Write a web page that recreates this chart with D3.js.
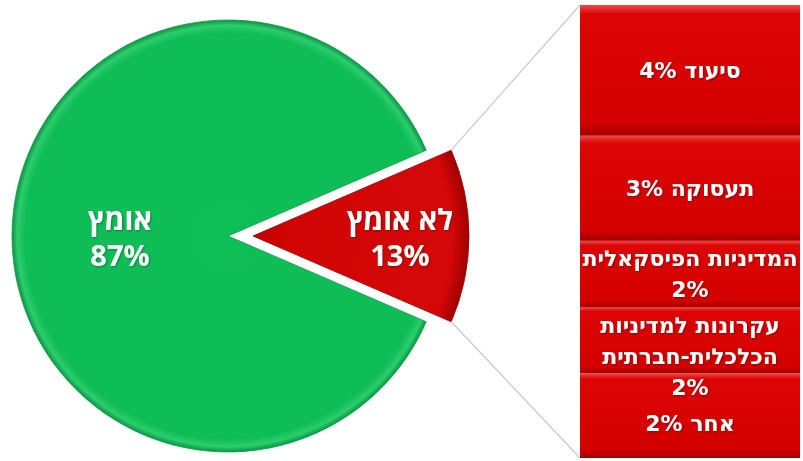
<!DOCTYPE html>
<html>
<head>
<meta charset="utf-8">
<script src="https://cdn.jsdelivr.net/npm/d3@7"></script>
<style>
  body { margin: 0; background: #ffffff; }
  svg { display: block; }
</style>
</head>
<body>
<svg id="chart" width="803" height="461"></svg>
<script>
// pie data
var pieLabels = ["אומץ", "לא אומץ"];
var pieValues = [87, 13];
var piePercents = ["87%", "13%"];

// breakdown of the "not adopted" slice
var barNames = [["סיעוד"], ["תעסוקה"], ["המדיניות הפיסקאלית"], ["עקרונות למדיניות", "הכלכלית-חברתית"], ["אחר"]];
var barValues = [3.76, 3.02, 1.9, 1.9, 2.44];
var barPercents = ["4%", "3%", "2%", "2%", "2%"];

var svg = d3.select("#chart");
var cx = 228, cy = 236, radius = 216, explode = 25;

var defs = svg.append("defs");

// gradients live in each slice's own (translated) coordinates
var gGreen = defs.append("radialGradient").attr("id", "gGreen")
  .attr("gradientUnits", "userSpaceOnUse")
  .attr("cx", 0).attr("cy", 0).attr("r", radius);
gGreen.append("stop").attr("offset", "0").attr("stop-color", "#10be58");
gGreen.append("stop").attr("offset", "0.94").attr("stop-color", "#0fbd57");
gGreen.append("stop").attr("offset", "0.975").attr("stop-color", "#2ccd6d");
gGreen.append("stop").attr("offset", "1").attr("stop-color", "#0a9444");

var gRed = defs.append("radialGradient").attr("id", "gRed")
  .attr("gradientUnits", "userSpaceOnUse")
  .attr("cx", 0).attr("cy", 0).attr("r", radius);
gRed.append("stop").attr("offset", "0").attr("stop-color", "#c00000");
gRed.append("stop").attr("offset", "0.2").attr("stop-color", "#d20505");
gRed.append("stop").attr("offset", "0.92").attr("stop-color", "#d40808");
gRed.append("stop").attr("offset", "1").attr("stop-color", "#a00000");

var gBar = defs.append("linearGradient").attr("id", "gBar")
  .attr("x1", 0).attr("y1", 0).attr("x2", 0).attr("y2", 1);
gBar.append("stop").attr("offset", "0").attr("stop-color", "#f04848");
gBar.append("stop").attr("offset", "0.07").attr("stop-color", "#dc0505");
gBar.append("stop").attr("offset", "0.9").attr("stop-color", "#d40000");
gBar.append("stop").attr("offset", "1").attr("stop-color", "#a00000");

var shadow = defs.append("filter").attr("id", "shadow")
  .attr("x", "-10%").attr("y", "-10%").attr("width", "120%").attr("height", "120%");
shadow.append("feDropShadow").attr("dx", 1).attr("dy", 1).attr("stdDeviation", 1)
  .attr("flood-color", "#000").attr("flood-opacity", 0.35);

var pieData = pieLabels.map(function(d, i) {
  return {label: d, value: pieValues[i], pct: piePercents[i]};
});
var span = 2 * Math.PI * pieValues[1] / d3.sum(pieValues);
var start = Math.PI / 2 + span / 2;

var pie = d3.pie().sort(null).value(function(d) { return d.value; })
  .startAngle(start).endAngle(start + 2 * Math.PI);
var arcs = pie(pieData);
var arc = d3.arc().innerRadius(0).outerRadius(radius);

var pieG = svg.append("g");
arcs.forEach(function(a, i) {
  var dx = i === 1 ? explode : 0;
  pieG.append("path")
    .attr("transform", "translate(" + (cx + dx) + "," + cy + ")")
    .attr("d", arc(a))
    .attr("fill", i === 0 ? "url(#gGreen)" : "url(#gRed)")
    .attr("stroke", i === 0 ? "#0b9d48" : "#9a0000")
    .attr("stroke-width", 0.8);
});

// pie labels
arcs.forEach(function(a, i) {
  var dx = i === 1 ? explode : 0;
  var lr = i === 0 ? radius * 0.5 : radius * 0.68;
  var c = d3.arc().innerRadius(lr).outerRadius(lr).centroid(a);
  var t = svg.append("text")
    .attr("x", cx + dx + c[0])
    .attr("y", cy + c[1])
    .attr("text-anchor", "middle")
    .attr("direction", "rtl")
    .attr("font-family", "'Open Sans', 'Liberation Sans', Arial, sans-serif")
    .attr("font-weight", "bold")
    .attr("font-size", "29px")
    .attr("fill", "#ffffff")
    .attr("filter", "url(#shadow)");
  t.append("tspan").attr("x", cx + dx + c[0]).attr("dy", "-0.2em").text(a.data.label);
  t.append("tspan").attr("x", cx + dx + c[0]).attr("dy", "1.22em").text(a.data.pct);
});

// bar of pie
var total = d3.sum(barValues);
var y = d3.scaleLinear().domain([0, total]).range([5, 458]);
var x = d3.scaleLinear().domain([0, 1]).range([580, 800]);
var stacked = [];
var acc = 0;
barValues.forEach(function(v, i) {
  stacked.push({y0: acc, y1: acc + v, names: barNames[i], pct: barPercents[i]});
  acc += v;
});

// connector lines (start angle = upper corner of the red slice)
var redArc = arcs[1];
var corners = [redArc.startAngle, redArc.endAngle].map(function(ang) {
  return [cx + explode + radius * Math.sin(ang), cy - radius * Math.cos(ang)];
});
svg.append("line")
  .attr("x1", corners[0][0]).attr("y1", corners[0][1])
  .attr("x2", x(0)).attr("y2", y(0))
  .attr("stroke", "#c8c8c8").attr("stroke-width", 1.2);
svg.append("line")
  .attr("x1", corners[1][0]).attr("y1", corners[1][1])
  .attr("x2", x(0)).attr("y2", y(total))
  .attr("stroke", "#c8c8c8").attr("stroke-width", 1.2);

var barG = svg.append("g");
barG.selectAll("rect.seg")
  .data(stacked)
  .enter().append("rect")
  .attr("class", "seg")
  .attr("x", x(0))
  .attr("y", function(d) { return y(d.y0); })
  .attr("width", x(1) - x(0))
  .attr("height", function(d) { return y(d.y1) - y(d.y0); })
  .attr("fill", "url(#gBar)");

// labels centred on segments, pushed down when they would collide
var lineH = 31;
var labelGap = 36;
var prevLast = -Infinity;
stacked.forEach(function(d) {
  var lines = d.names.slice();
  if (lines.length === 1 && lines[0].length <= 8) {
    lines[0] = lines[0] + " " + d.pct;
  } else {
    lines.push(d.pct);
  }
  var mid = (y(d.y0) + y(d.y1)) / 2;
  var top = mid - (lines.length - 1) * lineH / 2;
  if (top < prevLast + labelGap) top = prevLast + labelGap;
  prevLast = top + (lines.length - 1) * lineH;
  var t = barG.append("text")
    .attr("text-anchor", "middle")
    .attr("direction", "rtl")
    .attr("font-family", "'DejaVu Sans', 'Liberation Sans', Arial, sans-serif")
    .attr("font-weight", "bold")
    .attr("font-size", "22px")
    .attr("fill", "#ffffff")
    .attr("filter", "url(#shadow)");
  lines.forEach(function(l, j) {
    t.append("tspan")
      .attr("x", (x(0) + x(1)) / 2)
      .attr("y", top + j * lineH)
      .attr("dy", "0.35em")
      .text(l);
  });
});
</script>
</body>
</html>
